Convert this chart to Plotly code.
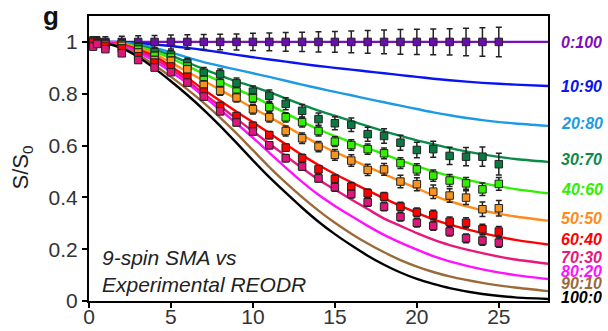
import plotly.graph_objects as go

# ---- theoretical curves (9-spin SMA) ----
t_curve = [0, 1, 2, 3, 4, 5, 6, 7, 8, 9, 10, 11, 12, 13, 14, 15, 16, 17, 18, 19, 20, 21, 22, 24, 26, 28]
ratios = ["0:100", "10:90", "20:80", "30:70", "40:60", "50:50", "60:40", "70:30", "80:20", "90:10", "100:0"]
curve_colors = ["#7E0FB8", "#0A14F0", "#1C9BE4", "#0B8A48", "#2EF000", "#FF8C1A",
                "#FF0000", "#E8177D", "#FF10FF", "#9C6A3A", "#000000"]

c_0_100 = [1.0] * 26
c_10_90 = [1, 1, 0.999, 0.996, 0.99, 0.984, 0.977, 0.969, 0.96, 0.95, 0.941, 0.932, 0.924, 0.915, 0.907,
           0.9, 0.893, 0.886, 0.879, 0.872, 0.865, 0.858, 0.852, 0.842, 0.835, 0.83]
c_20_80 = [1, 1, 0.997, 0.99, 0.978, 0.96, 0.94, 0.922, 0.907, 0.893, 0.879, 0.865, 0.85, 0.835, 0.821,
           0.807, 0.794, 0.78, 0.767, 0.754, 0.741, 0.728, 0.717, 0.698, 0.685, 0.676]
c_30_70 = [1, 0.999, 0.995, 0.985, 0.97, 0.948, 0.921, 0.895, 0.87, 0.848, 0.828, 0.806, 0.782, 0.758, 0.735,
           0.715, 0.695, 0.675, 0.655, 0.637, 0.62, 0.605, 0.59, 0.566, 0.548, 0.537]
c_40_60 = [1, 0.999, 0.994, 0.982, 0.963, 0.937, 0.907, 0.877, 0.848, 0.818, 0.79, 0.758, 0.725, 0.693, 0.662,
           0.637, 0.613, 0.59, 0.566, 0.543, 0.521, 0.5, 0.483, 0.455, 0.432, 0.416]
c_50_50 = [1, 0.999, 0.992, 0.977, 0.955, 0.92, 0.885, 0.85, 0.815, 0.78, 0.745, 0.71, 0.675, 0.64, 0.605,
           0.575, 0.547, 0.518, 0.49, 0.462, 0.435, 0.408, 0.385, 0.35, 0.326, 0.31]
c_60_40 = [1, 0.998, 0.99, 0.97, 0.945, 0.905, 0.862, 0.815, 0.773, 0.73, 0.69, 0.648, 0.605, 0.563, 0.525,
           0.49, 0.458, 0.427, 0.396, 0.367, 0.34, 0.315, 0.295, 0.262, 0.236, 0.218]
c_70_30 = [1, 0.998, 0.988, 0.965, 0.935, 0.895, 0.85, 0.8, 0.752, 0.703, 0.655, 0.607, 0.56, 0.513, 0.468,
           0.43, 0.392, 0.355, 0.318, 0.29, 0.262, 0.237, 0.216, 0.185, 0.16, 0.144]
c_80_20 = [1, 0.997, 0.985, 0.96, 0.925, 0.885, 0.84, 0.79, 0.738, 0.685, 0.63, 0.572, 0.515, 0.46, 0.41,
           0.367, 0.328, 0.29, 0.255, 0.225, 0.198, 0.173, 0.153, 0.122, 0.1, 0.085]
c_90_10 = [1, 0.996, 0.98, 0.95, 0.91, 0.865, 0.817, 0.765, 0.708, 0.647, 0.582, 0.517, 0.457, 0.401, 0.349,
           0.302, 0.26, 0.222, 0.188, 0.158, 0.133, 0.112, 0.095, 0.07, 0.052, 0.038]
c_100_0 = [1, 0.995, 0.976, 0.942, 0.898, 0.848, 0.795, 0.738, 0.676, 0.61, 0.543, 0.478, 0.418, 0.36, 0.306,
           0.258, 0.215, 0.175, 0.14, 0.11, 0.085, 0.066, 0.05, 0.027, 0.014, 0.008]
curves = [c_0_100, c_10_90, c_20_80, c_30_70, c_40_60, c_50_50, c_60_40, c_70_30, c_80_20, c_90_10, c_100_0]
label_y = [0.996, 0.826, 0.687, 0.548, 0.429, 0.320, 0.239, 0.166, 0.112, 0.066, 0.012]

# ---- experimental REODR points ----
t_exp = [0.25, 0.5, 1, 2, 3, 4, 5, 6, 7, 8, 9, 10, 11, 12, 13, 14, 15, 16, 17, 18, 19, 20, 21, 22, 23, 24, 25]

e_0_100 = [1.0] * 27
err_0_100 = [0.02, 0.02, 0.02, 0.022, 0.024, 0.025, 0.027, 0.028, 0.029, 0.03, 0.031, 0.033, 0.034, 0.036,
             0.037, 0.039, 0.04, 0.042, 0.044, 0.046, 0.048, 0.049, 0.05, 0.051, 0.053, 0.055, 0.057]
e_30_70 = [1.005, 1.0, 0.995, 0.993, 0.98, 0.96, 0.95, 0.918, 0.881, 0.875, 0.84, 0.808, 0.792, 0.761, 0.734,
           0.702, 0.686, 0.68, 0.644, 0.637, 0.611, 0.583, 0.586, 0.56, 0.557, 0.557, 0.528]
err_30_70 = [0.015, 0.015, 0.015, 0.016, 0.017, 0.018, 0.018, 0.019, 0.02, 0.02, 0.021, 0.022, 0.022, 0.023,
             0.024, 0.024, 0.025, 0.026, 0.027, 0.028, 0.029, 0.03, 0.031, 0.033, 0.035, 0.037, 0.042]
e_40_60 = [1.0, 0.998, 0.99, 0.99, 0.97, 0.946, 0.94, 0.905, 0.853, 0.84, 0.808, 0.783, 0.748, 0.709, 0.69,
           0.656, 0.615, 0.602, 0.586, 0.57, 0.532, 0.508, 0.484, 0.465, 0.454, 0.431, 0.452]
err_40_60 = [0.012, 0.012, 0.012, 0.013, 0.013, 0.014, 0.014, 0.015, 0.015, 0.016, 0.016, 0.017, 0.017, 0.018,
             0.018, 0.019, 0.019, 0.02, 0.02, 0.021, 0.021, 0.022, 0.022, 0.023, 0.023, 0.024, 0.025]
e_50_50 = [0.998, 0.995, 0.99, 0.985, 0.959, 0.93, 0.927, 0.894, 0.834, 0.811, 0.785, 0.74, 0.709, 0.656, 0.628,
           0.596, 0.564, 0.542, 0.506, 0.508, 0.461, 0.451, 0.422, 0.407, 0.399, 0.354, 0.358]
err_50_50 = [0.012, 0.012, 0.013, 0.013, 0.014, 0.014, 0.015, 0.015, 0.016, 0.017, 0.017, 0.018, 0.018, 0.019,
             0.02, 0.02, 0.021, 0.022, 0.022, 0.023, 0.024, 0.025, 0.026, 0.026, 0.027, 0.028, 0.03]
e_60_40 = [1.0, 0.995, 0.985, 0.975, 0.945, 0.92, 0.905, 0.865, 0.808, 0.753, 0.714, 0.676, 0.64, 0.592, 0.551,
           0.508, 0.471, 0.441, 0.416, 0.403, 0.364, 0.342, 0.332, 0.306, 0.302, 0.277, 0.268]
err_60_40 = [0.01, 0.01, 0.01, 0.011, 0.011, 0.012, 0.012, 0.012, 0.013, 0.013, 0.013, 0.014, 0.014, 0.014,
             0.015, 0.015, 0.015, 0.016, 0.016, 0.016, 0.017, 0.017, 0.018, 0.018, 0.019, 0.019, 0.02]
e_70_30 = [0.982, 0.992, 0.972, 0.956, 0.93, 0.901, 0.883, 0.843, 0.789, 0.732, 0.689, 0.654, 0.601, 0.551, 0.519,
           0.473, 0.439, 0.413, 0.381, 0.364, 0.325, 0.302, 0.29, 0.268, 0.242, 0.233, 0.225]
err_70_30 = [0.012, 0.01, 0.01, 0.01, 0.011, 0.011, 0.011, 0.012, 0.012, 0.012, 0.013, 0.013, 0.013, 0.014,
             0.014, 0.014, 0.015, 0.015, 0.015, 0.016, 0.016, 0.016, 0.017, 0.017, 0.017, 0.018, 0.018]

exp_series = [
    (e_0_100, err_0_100, "#6A0DAD"),
    (e_30_70, err_30_70, "#0B7A40"),
    (e_40_60, err_40_60, "#33EE00"),
    (e_50_50, err_50_50, "#F7941D"),
    (e_60_40, err_60_40, "#FF0000"),
    (e_70_30, err_70_30, "#E0157A"),
]

FONT = "Liberation Sans, Arial"

fig = go.Figure()

for vals, col in zip(curves, curve_colors):
    fig.add_trace(go.Scatter(x=t_curve, y=vals, mode="lines",
                             line=dict(color=col, width=2.4, shape="spline", smoothing=0.6),
                             hoverinfo="skip", showlegend=False))

for vals, errs, col in exp_series:
    fig.add_trace(go.Scatter(x=t_exp, y=vals, mode="markers",
                             marker=dict(symbol="square", size=7.5, color=col,
                                         line=dict(color="#222222", width=1)),
                             error_y=dict(type="data", array=errs, visible=True,
                                          color="#222222", thickness=1.5, width=3),
                             showlegend=False))

# right-hand ratio labels
for name, yv, col in zip(ratios, label_y, curve_colors):
    fig.add_annotation(x=1, xref="paper", y=yv, yref="y", xshift=11, xanchor="left",
                       yanchor="middle", text=name, showarrow=False, height=13,
                       font=dict(family=FONT, size=16, color=col,
                                 weight="bold", style="italic"))

fig.add_annotation(x=0.024, xref="paper", y=0.105, yref="paper", xanchor="left", yanchor="middle",
                   text="9-spin SMA vs<br>Experimental REODR", showarrow=False, align="left",
                   font=dict(family=FONT, size=21, color="#222222", style="italic"))

fig.add_annotation(x=-0.083, xref="paper", y=1.0, yref="paper", xanchor="center", yanchor="middle",
                   text="<b>g</b>", showarrow=False,
                   font=dict(family=FONT, size=26, color="#111111"))

fig.add_annotation(x=-0.145, xref="paper", y=0.47, yref="paper", xanchor="center", yanchor="middle",
                   text="S/S<sub>0</sub>", textangle=-90, showarrow=False,
                   font=dict(family=FONT, size=22, color="#222222"))

fig.update_xaxes(range=[0, 28], tickmode="array", tickvals=[0, 5, 10, 15, 20, 25],
                 showline=True, linecolor="black", linewidth=2, mirror=True,
                 ticks="outside", ticklen=5, tickwidth=2, tickcolor="black",
                 showgrid=False, zeroline=False, automargin=False, ticklabelstandoff=-9,
                 tickfont=dict(family=FONT, size=21, color="#333333"))
fig.update_yaxes(range=[0, 1.1], tickmode="array", tickvals=[0, 0.2, 0.4, 0.6, 0.8, 1],
                 ticktext=["0", "0.2", "0.4", "0.6", "0.8", "1"],
                 showline=True, linecolor="black", linewidth=2, mirror=True,
                 ticks="outside", ticklen=5, tickwidth=2, tickcolor="black",
                 showgrid=False, zeroline=False, automargin=False,
                 tickfont=dict(family=FONT, size=21, color="#333333"))

fig.update_layout(width=608, height=331, margin=dict(l=89, r=60, t=16, b=30, autoexpand=False),
                  plot_bgcolor="white", paper_bgcolor="white", showlegend=False)

fig.write_html("out.html")
